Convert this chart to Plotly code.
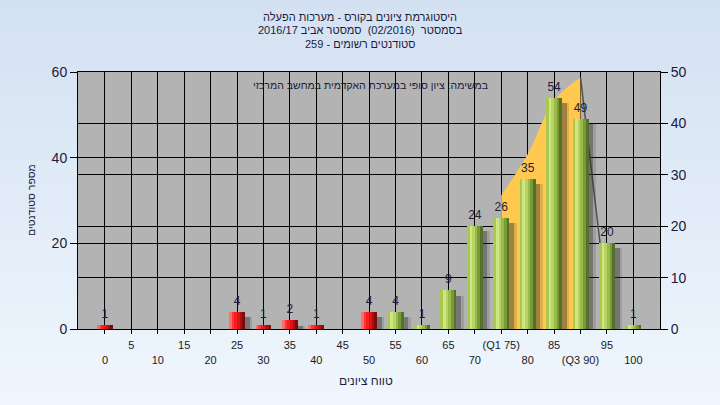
import plotly.graph_objects as go

# ---------------- data ----------------
categories = [0, 5, 10, 15, 20, 25, 30, 35, 40, 45, 50, 55, 60, 65, 70, 75, 80, 85, 90, 95, 100]
counts = [1, 0, 0, 0, 0, 4, 1, 2, 1, 0, 4, 4, 1, 9, 24, 26, 35, 54, 49, 20, 1]
tick_labels = ["0", "5", "10", "15", "20", "25", "30", "35", "40", "45", "50", "55", "60",
               "65", "70", "(Q1 75)", "80", "85", "(Q3 90)", "95", "100"]
pass_mark = 55

# quartile band (right axis units)
band_x = [75, 80, 85, 90]
band_y = [26, 34, 44.5, 49]
drop_x = [90, 93.7]
drop_y = [49, 16.7]

title_lines = ["היסטוגרמת ציונים בקורס - מערכות הפעלה",
               "בסמסטר  (02/2016)  סמסטר אביב 2016/17",
               "סטודנטים רשומים - 259"]
note_text = "במשימה: ציון סופי במערכת האקדמית במחשב המרכזי"
x_title = "טווח ציונים"
y_title = "מספר סטודנטים"

# ---------------- layout geometry ----------------
W, H = 720, 405
L, R, T, B = 78, 60, 72, 76
PW, PH = W - L - R, H - T - B

def px_x(p):
    return (p - L) / PW

def px_y(p):
    return (H - B - p) / PH

FONT = "Arial, Liberation Sans, DejaVu Sans, sans-serif"
TXT = "#1c1c3c"

red_strips = ["#ff6a6a", "#ff3434", "#f41e1e", "#d81414", "#b00e0e", "#800a0a"]
green_strips = ["#a9c84e", "#cfe685", "#b7d464", "#9aba4a", "#789a38", "#55702a"]
n_strips = len(red_strips)
bar_w = 3.0
strip_w = bar_w / n_strips

fig = go.Figure()

# quartile band on main (right) axis
fig.add_trace(go.Scatter(x=band_x, y=band_y, mode="lines", line=dict(width=0, shape="spline"),
                         fill="tozeroy", fillcolor="#ffc84e", yaxis="y", hoverinfo="skip"))
fig.add_trace(go.Scatter(x=drop_x, y=drop_y, mode="lines", line=dict(color="#505050", width=1.5),
                         yaxis="y", hoverinfo="skip"))

# shadows
fig.add_trace(go.Bar(x=categories, y=counts, width=bar_w + 0.8, offset=-bar_w / 2 + 0.6,
                     marker=dict(color="rgba(40,40,40,0.15)", line=dict(width=0)), yaxis="y2"))
fig.add_trace(go.Bar(x=categories, y=counts, width=bar_w, offset=-bar_w / 2 + 0.9,
                     marker=dict(color="rgba(40,40,40,0.35)", line=dict(width=0)), yaxis="y2"))

# gradient bars made of strips
for i in range(n_strips):
    cols = [red_strips[i] if c < pass_mark else green_strips[i] for c in categories]
    fig.add_trace(go.Bar(x=categories, y=counts, width=strip_w + 0.02,
                         offset=-bar_w / 2 + i * strip_w,
                         marker=dict(color=cols, line=dict(width=0)), yaxis="y3"))

# value labels
fig.add_trace(go.Scatter(x=categories, y=counts, mode="markers+text",
                         marker=dict(size=5, color="rgba(0,0,0,0)"),
                         text=[str(v) if v > 0 else "" for v in counts],
                         textposition="top center",
                         textfont=dict(family=FONT, size=12, color=TXT), yaxis="y3",
                         cliponaxis=False, hoverinfo="skip"))

# tick text, alternating rows
tick_text = [lab if i % 2 == 1 else "<br>" + lab for i, lab in enumerate(tick_labels)]

# background gradient strips
shapes = []
n_bg = 40
top_c = (212, 225, 242)
bot_c = (239, 246, 253)
for k in range(n_bg):
    f = k / (n_bg - 1)
    c = tuple(int(round(top_c[j] + (bot_c[j] - top_c[j]) * f)) for j in range(3))
    y0p = k * H / n_bg
    y1p = (k + 1) * H / n_bg + 1
    shapes.append(dict(type="rect", xref="paper", yref="paper", layer="below",
                       x0=px_x(0), x1=px_x(W), y0=px_y(y1p), y1=px_y(y0p),
                       fillcolor="rgb(%d,%d,%d)" % c, line=dict(width=0)))
shapes.append(dict(type="rect", xref="paper", yref="paper", layer="below",
                   x0=0, x1=1, y0=0, y1=1, fillcolor="#b3b3b3", line=dict(width=0)))

annotations = []
for txt, yp in zip(title_lines, [17, 30, 44]):
    annotations.append(dict(text=txt, x=px_x(360), y=px_y(yp), xref="paper", yref="paper",
                            showarrow=False, xanchor="center", yanchor="middle",
                            font=dict(family=FONT, size=11, color=TXT)))
annotations.append(dict(text=note_text, x=px_x(370), y=px_y(85), xref="paper", yref="paper",
                        showarrow=False, xanchor="center", yanchor="middle",
                        font=dict(family=FONT, size=10.5, color=TXT)))
annotations.append(dict(text=x_title, x=px_x(366), y=px_y(381), xref="paper", yref="paper",
                        showarrow=False, xanchor="center", yanchor="middle",
                        font=dict(family=FONT, size=12, color=TXT)))
annotations.append(dict(text=y_title, x=px_x(31), y=px_y(200), xref="paper", yref="paper",
                        showarrow=False, xanchor="center", yanchor="middle", textangle=-90,
                        font=dict(family=FONT, size=10.5, color=TXT)))

fig.update_layout(
    width=W, height=H,
    margin=dict(l=L, r=R, t=T, b=B, autoexpand=False),
    paper_bgcolor="#e4edf8",
    plot_bgcolor="rgba(0,0,0,0)",
    barmode="overlay",
    bargap=0,
    showlegend=False,
    shapes=shapes,
    annotations=annotations,
    font=dict(family=FONT, color=TXT),
    xaxis=dict(range=[-5.1, 105.05], tickmode="array", tickvals=categories, ticktext=tick_text,
               tickangle=0, automargin=False, ticklabelstandoff=2,
               showgrid=True, gridcolor="black", gridwidth=1,
               showline=True, linecolor="black", linewidth=1, mirror=True,
               ticks="outside", ticklen=4, tickcolor="black",
               tickfont=dict(family=FONT, size=11, color="#1a1a1a"), zeroline=False),
    yaxis=dict(range=[0, 50], dtick=10, side="right", showgrid=True, gridcolor="black",
               gridwidth=1, showline=True, linecolor="black", linewidth=1, automargin=False,
               ticks="outside", ticklen=7, tickcolor="black",
               tickfont=dict(family=FONT, size=14, color="#1a1a3a"), zeroline=False),
    yaxis2=dict(range=[1.2, 61.2], overlaying="y", visible=False, showgrid=False),
    yaxis3=dict(range=[0, 60], dtick=20, side="left", overlaying="y", showgrid=True,
                gridcolor="black", gridwidth=1, showline=True, linecolor="black", linewidth=1,
                automargin=False,
                ticks="outside", ticklen=7, tickcolor="black",
                tickfont=dict(family=FONT, size=14, color="#1a1a3a"), zeroline=False),
)

fig.write_html("out.html", config={"displayModeBar": False},
               post_script="document.body.style.margin='0';document.body.style.padding='0';")
